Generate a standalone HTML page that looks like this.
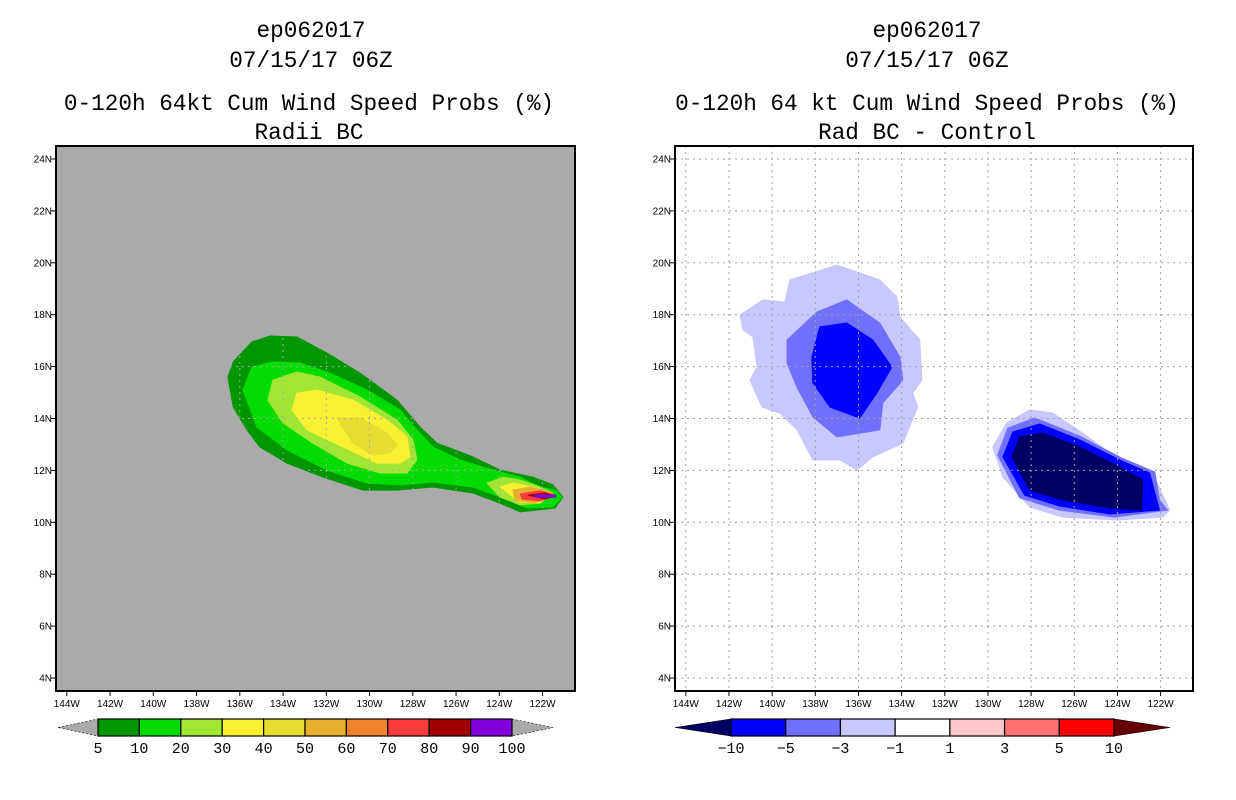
<!DOCTYPE html>
<html><head><meta charset="utf-8">
<style>
html,body{margin:0;padding:0;background:#fff;}
svg{display:block;font-family:"Liberation Mono","DejaVu Sans Mono",monospace;}
</style></head>
<body>
<svg id="fig" width="1236" height="800" viewBox="0 0 1236 800" xmlns="http://www.w3.org/2000/svg">
  <g font-size="22.7" text-anchor="middle" fill="#000">
    <text x="311" y="37">ep062017</text>
    <text x="311" y="67">07/15/17 06Z</text>
    <text x="309" y="110">0-120h 64kt Cum Wind Speed Probs (%)</text>
    <text x="309" y="139">Radii BC</text>
  </g>
  <g font-size="22.7" text-anchor="middle" fill="#000">
    <text x="927" y="37">ep062017</text>
    <text x="927" y="67">07/15/17 06Z</text>
    <text x="927" y="110">0-120h 64 kt Cum Wind Speed Probs (%)</text>
    <text x="927" y="139">Rad BC - Control</text>
  </g>
  <g id="left"></g>
  <g id="right"></g>
  <g id="cbl"></g>
  <g id="cbr"></g>
</svg>
<script>
// ---- data ----
const lonTicks = [-144,-142,-140,-138,-136,-134,-132,-130,-128,-126,-124,-122];
const latTicks = [4,6,8,10,12,14,16,18,20,22,24];
// Left: cumulative probability contours [lon,lat]
const leftLevels = ['5','10','20','20b','30','30b','40','50','70','80'];
const leftColors = ['#009600','#00dc00','#a0e632','#a0e632','#faf032','#faf032','#e6dc32','#e6af2d','#fa3c3c','#a00000'];
const p5 = [[-136.55,15.6],[-136.3,16.18],[-135.44,16.95],[-134.6,17.18],[-133.36,17.14],[-131.97,16.52],[-130.44,15.75],[-128.73,14.71],[-127.67,13.67],[-126.88,13.05],[-125.22,12.52],[-123.97,12.01],[-122.44,11.74],[-121.52,11.44],[-121.06,10.97],[-121.42,10.55],[-123.04,10.4],[-123.97,10.74],[-125.22,11.13],[-127.07,11.36],[-128.73,11.24],[-130.3,11.24],[-132.15,11.74],[-133.82,12.28],[-135.07,12.9],[-135.67,13.56],[-136.3,14.44]];
const p10 = [[-135.85,15.1],[-135.44,15.98],[-134.47,16.18],[-133.22,16.14],[-131.83,15.75],[-130.12,15.1],[-128.59,14.33],[-127.81,13.56],[-127.07,12.9],[-125.82,12.4],[-124.29,12.01],[-123.04,11.74],[-122.12,11.36],[-121.42,11.24],[-121.1,10.97],[-121.52,10.59],[-122.72,10.55],[-123.83,10.94],[-125.22,11.36],[-127.07,11.55],[-128.59,11.44],[-130.12,11.51],[-131.97,12.01],[-133.82,12.79],[-135.21,13.67]];
const p20 = [[-134.7,14.71],[-134.47,15.48],[-133.36,15.79],[-132.29,15.6],[-130.44,14.83],[-128.73,13.94],[-127.99,13.17],[-127.81,12.4],[-128.27,11.9],[-129.52,11.9],[-131.04,12.28],[-132.62,13.05],[-134.0,13.83]];
const p20b = [[-124.57,11.51],[-123.83,11.74],[-123.04,11.63],[-122.12,11.36],[-121.52,11.13],[-122.12,10.74],[-123.04,10.67],[-123.97,10.97]];
const p30 = [[-133.59,14.33],[-133.36,14.98],[-132.43,15.1],[-130.77,14.71],[-129.19,13.94],[-128.27,13.29],[-128.13,12.52],[-128.59,12.28],[-129.66,12.28],[-131.23,12.9],[-132.89,13.56]];
const p30b = [[-123.97,11.36],[-123.37,11.51],[-122.44,11.36],[-121.66,11.13],[-122.12,10.74],[-123.04,10.78]];
const p40 = [[-131.51,14.02],[-130.44,14.02],[-129.19,13.44],[-128.73,12.98],[-129.05,12.67],[-129.84,12.59],[-130.77,13.05]];
const p50 = [[-123.37,11.24],[-122.58,11.36],[-121.52,11.13],[-122.35,10.74],[-123.27,10.86]];
const p70 = [[-123.04,11.09],[-122.12,11.21],[-121.42,11.05],[-122.12,10.82],[-122.95,10.9]];
const p80 = [[-122.67,11.05],[-121.89,11.13],[-121.37,11.01],[-121.89,10.9]];
const p90 = [[-122.4,11.07],[-121.4,11.07],[-121.4,10.95],[-122.4,10.95]];
const leftPolys = [p5,p10,p20,p20b,p30,p30b,p40,p50,p70,p80];
// Right: difference contours
const rightColors = ['#c8c8ff','#7070ff','#0000ff','#c8c8ff','#7070ff','#0000ff','#000064'];
const a1 = [[-141.49,17.99],[-140.43,18.57],[-139.41,18.49],[-139.18,19.34],[-137.0,19.91],[-135.01,19.34],[-134.22,18.68],[-134.08,17.91],[-133.16,17.02],[-133.06,15.48],[-133.48,14.98],[-133.25,14.44],[-133.94,13.05],[-135.33,12.52],[-136.07,12.01],[-136.86,12.4],[-138.11,12.4],[-138.85,13.56],[-139.64,14.21],[-140.47,14.44],[-141.03,15.48],[-140.7,15.98],[-140.89,17.14],[-141.35,17.41]];
const a3 = [[-139.31,17.02],[-137.93,18.1],[-136.54,18.57],[-135.01,17.68],[-134.08,16.37],[-133.94,15.48],[-134.87,14.6],[-135.01,13.56],[-137.0,13.29],[-138.11,14.06],[-138.85,15.21],[-139.31,16.14]];
const a5 = [[-138.16,16.37],[-137.79,17.53],[-136.54,17.68],[-135.33,17.02],[-134.45,15.98],[-135.15,14.98],[-135.94,14.02],[-137.32,14.44],[-138.11,15.37]];
const b1 = [[-129.78,12.9],[-129.13,13.83],[-128.06,14.33],[-127.0,14.21],[-125.61,13.44],[-123.9,12.4],[-122.37,11.9],[-121.58,10.47],[-121.91,10.2],[-124.04,10.09],[-126.54,10.2],[-128.06,10.59],[-129.31,11.74]];
const b3 = [[-129.55,12.59],[-129.08,13.63],[-127.83,14.02],[-125.75,13.32],[-123.81,12.48],[-122.27,11.94],[-122.05,10.86],[-121.68,10.47],[-124.13,10.2],[-126.68,10.47],[-128.53,10.94]];
const b5 = [[-129.31,12.52],[-128.85,13.48],[-127.6,13.79],[-125.75,13.17],[-123.9,12.4],[-122.51,11.9],[-122.14,10.74],[-122.05,10.47],[-124.36,10.32],[-126.68,10.63],[-128.3,11.05]];
const b10 = [[-128.9,12.52],[-128.53,13.29],[-127.46,13.44],[-125.75,12.9],[-123.9,12.13],[-122.83,11.63],[-122.88,10.47],[-124.36,10.55],[-126.54,10.86],[-128.06,11.24]];
const rightPolys = [a1,a3,a5,b1,b3,b5,b10];
// colorbars
const leftCbLabels = ['5','10','20','30','40','50','60','70','80','90','100'];
const leftCbColors = ['#009600','#00dc00','#a0e632','#faf032','#e6dc32','#e6af2d','#f0822d','#fa3c3c','#a00000','#8200dc'];
const rightCbLabels = ['-10','-5','-3','-1','1','3','5','10'];
const rightCbColors = ['#0000ff','#7070ff','#c8c8ff','#ffffff','#ffc8c8','#ff7070','#ff0000'];

// ---- drawing ----
const NS='http://www.w3.org/2000/svg';
function mk(tag,attrs,parent){const e=document.createElementNS(NS,tag);for(const k in attrs)e.setAttribute(k,attrs[k]);parent.appendChild(e);return e;}
const LON0=-144.5,LON1=-120.5,LAT0=3.5,LAT1=24.5,Y0=146,Y1=691;
function makeAxes(x0,x1){
  return {x:lon=>x0+(lon-LON0)/(LON1-LON0)*(x1-x0), y:lat=>Y1-(lat-LAT0)/(LAT1-LAT0)*(Y1-Y0)};
}
function drawMap(g,x0,x1,bg,polys,colors,names,gridColor){
  const ax=makeAxes(x0,x1);
  const r=mk('rect',{x:x0,y:Y0,width:x1-x0,height:Y1-Y0,fill:bg},g);
  
  
  polys.forEach((p,i)=>{
    const pts=p.map(v=>ax.x(v[0]).toFixed(1)+','+ax.y(v[1]).toFixed(1)).join(' ');
    const pl=mk('polygon',{points:pts,fill:colors[i],'stroke':colors[i],'stroke-width':1,'stroke-linejoin':'round'},g);
    
    
  });
  lonTicks.forEach(l=>{
    const gl=mk('line',{x1:ax.x(l),x2:ax.x(l),y1:Y0,y2:Y1,stroke:gridColor,'stroke-width':1,'stroke-dasharray':'2,4'},g);
    
    
    const tk=mk('line',{x1:ax.x(l),x2:ax.x(l),y1:Y1,y2:Y1+5,stroke:'#000','stroke-width':1},g);
    
    
    const t=mk('text',{x:ax.x(l),y:Y1+16,'font-size':10,'text-anchor':'middle','font-family':'Liberation Sans, sans-serif'},g);
    t.textContent=Math.abs(l)+'W';
    
    
  });
  latTicks.forEach(l=>{
    const gl=mk('line',{x1:x0,x2:x1,y1:ax.y(l),y2:ax.y(l),stroke:gridColor,'stroke-width':1,'stroke-dasharray':'2,4'},g);
    
    
    const tk=mk('line',{x1:x0-5,x2:x0,y1:ax.y(l),y2:ax.y(l),stroke:'#000','stroke-width':1},g);
    
    
    const t=mk('text',{x:x0-4,y:ax.y(l)+3.5,'font-size':10,'text-anchor':'end','font-family':'Liberation Sans, sans-serif'},g);
    t.textContent=l+'N';
    
    
  });
  const fr=mk('rect',{x:x0,y:Y0,width:x1-x0,height:Y1-Y0,fill:'none',stroke:'#000','stroke-width':2},g);
  
  
  return ax;
}
const L=document.getElementById('left');
const axL=drawMap(L,56,575,'#aaaaaa',leftPolys,leftColors,leftLevels,'#aaaaaa');
{
  const pts=p90.map(v=>axL.x(v[0]).toFixed(1)+','+axL.y(v[1]).toFixed(1)).join(' ');
  const pl=mk('polygon',{points:pts,fill:'#8200dc'},L);
  
  
}
const R=document.getElementById('right');
drawMap(R,675,1193,'#ffffff',rightPolys,rightColors,['a-1','a-3','a-5','b-1','b-3','b-5','b-10'],'#a0a0a0');

function drawCb(g,xl,x0,x1,xr,colors,labels,leftTri,rightTri){
  const y0=719,y1=736,ym=727.5;
  const n=colors.length, w=(x1-x0)/n;
  const lt=mk('polygon',{points:`${xl},${ym} ${x0},${y0} ${x0},${y1}`,fill:leftTri,stroke:'#000','stroke-width':0.6,'stroke-dasharray':leftTri==='#aaaaaa'?'2,2':'none'},g);
  
  
  const rt=mk('polygon',{points:`${xr},${ym} ${x1},${y0} ${x1},${y1}`,fill:rightTri,stroke:'#000','stroke-width':0.6,'stroke-dasharray':rightTri==='#aaaaaa'?'2,2':'none'},g);
  
  
  colors.forEach((c,i)=>{
    const r=mk('rect',{x:x0+i*w,y:y0,width:w,height:y1-y0,fill:c,stroke:'#000','stroke-width':1.2},g);
    
    
  });
  labels.forEach((lab,i)=>{
    const t=mk('text',{x:x0+i*(x1-x0)/(labels.length-1),y:753,'font-size':15,'text-anchor':'middle'},g);
    t.textContent=lab.replace('-','\u2212');
    
    
  });
}
drawCb(document.getElementById('cbl'),58,98,512,553,leftCbColors,leftCbLabels,'#aaaaaa','#aaaaaa');
drawCb(document.getElementById('cbr'),675,731,1114,1170,rightCbColors,rightCbLabels,'#000064','#640000');
</script>
</body></html>
